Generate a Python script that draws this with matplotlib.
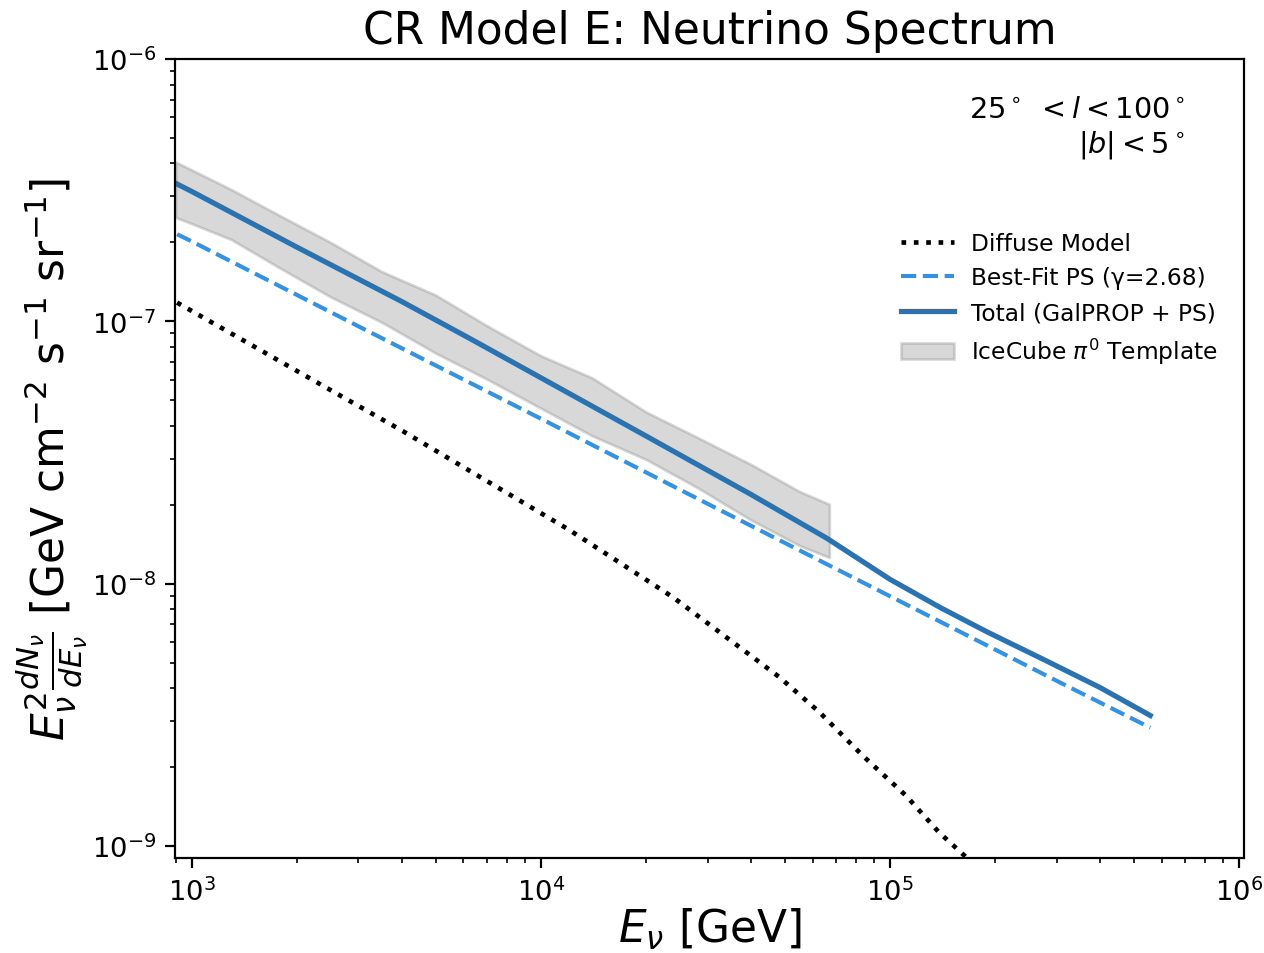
import numpy as np
import matplotlib
matplotlib.use('Agg')
import matplotlib.pyplot as plt
from matplotlib.ticker import NullFormatter

# Energies [GeV] and E^2 dN/dE values [GeV cm^-2 s^-1 sr^-1]
diffuse_E = [908, 2.0e3, 4.05e3, 1.21e4, 2.39e4, 4.82e4, 6.28e4, 8.36e4, 1.11e5, 1.38e5, 1.64e5, 2.0e5]
diffuse_flux = [1.18e-7, 6.48e-8, 3.80e-8, 1.60e-8, 8.89e-9, 4.41e-9, 3.24e-9, 2.21e-9, 1.56e-9, 1.13e-9, 9.16e-10, 7.0e-10]

ps_E = [908, 1e3, 3e3, 1e4, 3e4, 1e5, 3e5, 5.56e5]
ps_flux = [2.15e-7, 2.02e-7, 9.59e-8, 4.26e-8, 2.02e-8, 8.97e-9, 4.27e-9, 2.83e-9]

total_E = [908, 1e3, 2e3, 4e3, 6.3e3, 1e4, 2e4, 4e4, 6.6e4, 1e5, 1.4e5, 1.9e5, 2.8e5, 4e5, 5.56e5]
total_flux = [3.34e-7, 3.13e-7, 1.92e-7, 1.19e-7, 8.57e-8, 6.10e-8, 3.66e-8, 2.19e-8, 1.49e-8,
              1.04e-8, 8.09e-9, 6.55e-9, 5.09e-9, 4.02e-9, 3.15e-9]

band_E = [900, 1000, 1300, 1800, 2500, 3500, 5000, 7000, 1e4, 1.4e4, 2e4, 2.8e4, 4e4, 5.5e4, 6.7e4]
band_hi = [4.05e-7, 3.78e-7, 3.18e-7, 2.52e-7, 2.00e-7, 1.55e-7, 1.26e-7, 9.64e-8, 7.40e-8,
           6.10e-8, 4.52e-8, 3.62e-8, 2.85e-8, 2.25e-8, 2.01e-8]
band_lo = [2.49e-7, 2.36e-7, 2.05e-7, 1.59e-7, 1.24e-7, 9.93e-8, 7.57e-8, 6.03e-8, 4.67e-8,
           3.67e-8, 2.98e-8, 2.33e-8, 1.75e-8, 1.40e-8, 1.26e-8]

fig = plt.figure(figsize=(6.4, 4.83), dpi=197.5)
ax = fig.add_axes([0.1385, 0.0996, 0.8455, 0.8375])

ax.plot(diffuse_E, diffuse_flux, ':', color='black', lw=1.7, label='Diffuse Model')
ax.plot(ps_E, ps_flux, '--', color='#3592e0', lw=1.5, label='Best-Fit PS (γ=2.68)')
ax.plot(total_E, total_flux, '-', color='#2a73b0', lw=1.9, label='Total (GalPROP + PS)')
ax.fill_between(band_E, band_lo, band_hi, color='gray', alpha=0.3, label=r'IceCube $\pi^0$ Template')

ax.set_xscale('log')
ax.set_yscale('log')
ax.set_xlim(896, 1.03e6)
ax.set_ylim(9.02e-10, 1e-6)
ax.xaxis.set_minor_formatter(NullFormatter())
ax.yaxis.set_minor_formatter(NullFormatter())
ax.tick_params(labelsize=10)

ax.set_title('CR Model E: Neutrino Spectrum', fontsize=16)
ax.set_xlabel(r'$E_\nu$ [GeV]', fontsize=16, labelpad=0)
ax.set_ylabel(r'$E_\nu^2 \frac{dN_\nu}{dE_\nu}$ [GeV cm$^{-2}$ s$^{-1}$ sr$^{-1}$]', fontsize=16, labelpad=0.5)

ax.text(0.945, 0.955, '25$^\\circ$ $< l < 100^\\circ$\n$|b| < 5^\\circ$', transform=ax.transAxes,
        ha='right', va='top', fontsize=10.5, multialignment='right')

ax.legend(loc='upper right', bbox_to_anchor=(0.995, 0.81), frameon=False, fontsize=8.5,
          handlelength=2.3, handletextpad=0.7)

fig.savefig('out.png', dpi=197.5)
